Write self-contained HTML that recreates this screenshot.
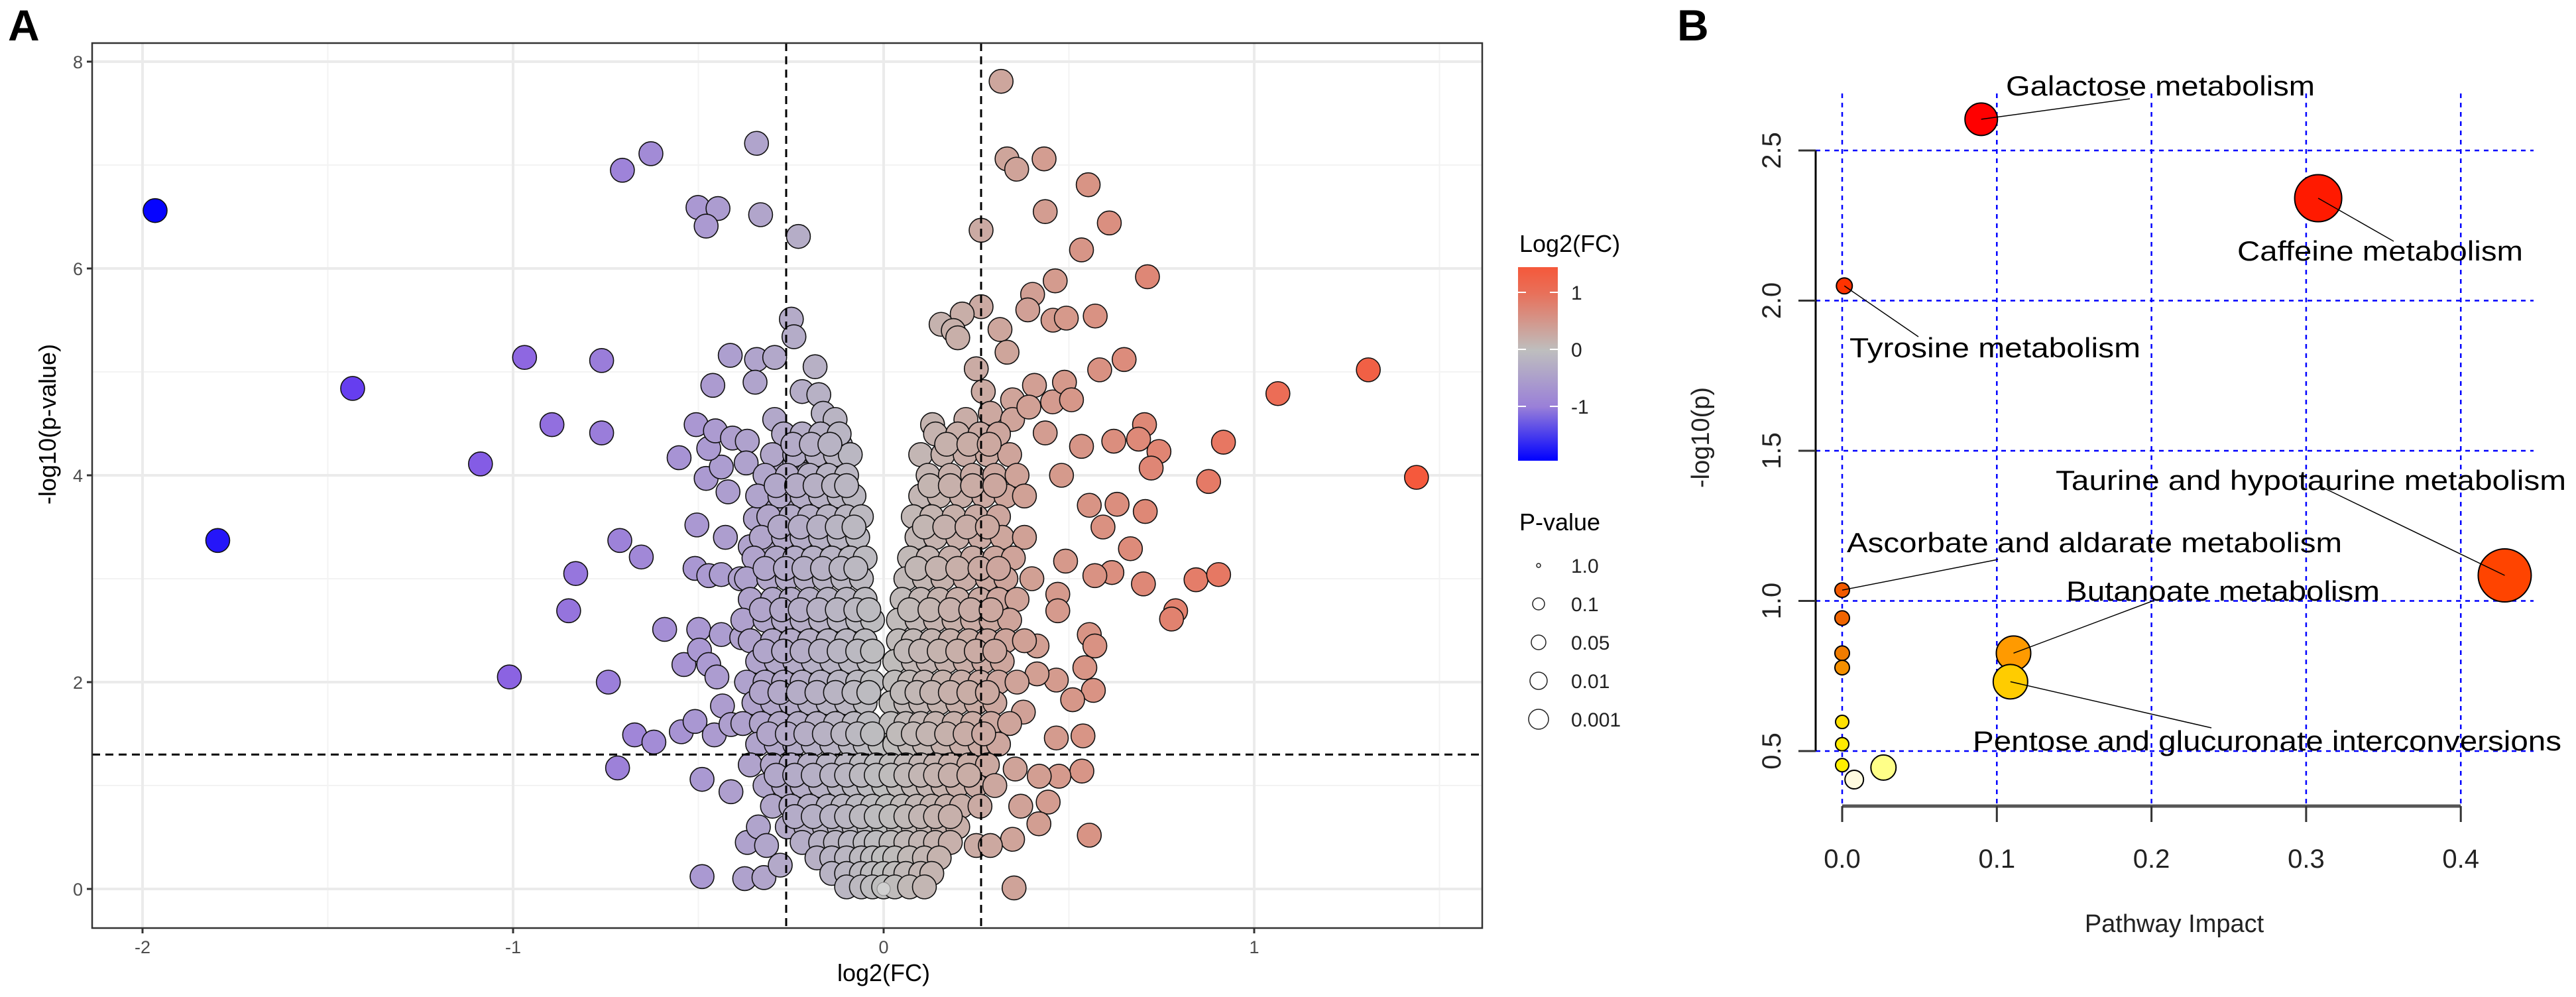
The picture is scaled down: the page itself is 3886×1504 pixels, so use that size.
<!DOCTYPE html>
<html><head><meta charset="utf-8"><style>
html,body{margin:0;padding:0;background:#fff;}
svg{display:block;font-family:"Liberation Sans",Arial,sans-serif;}
</style></head><body>
<svg id="fig" width="3886" height="1504" viewBox="0 0 3886 1504" xmlns="http://www.w3.org/2000/svg">
<defs><clipPath id="clipA"><rect x="139" y="65" width="2097" height="1335"/></clipPath>
<linearGradient id="fcgrad" x1="0" y1="0" x2="0" y2="1">
<stop offset="0" stop-color="#f5583a"/><stop offset="0.135" stop-color="#e8705a"/><stop offset="0.43" stop-color="#bebebe"/><stop offset="0.72" stop-color="#9a80d8"/><stop offset="1" stop-color="#0000ff"/></linearGradient></defs>
<text x="12" y="61" font-size="66" font-weight="bold">A</text>
<text x="2530" y="61" font-size="66" font-weight="bold">B</text>
<g id="gA"></g>
<g id="gB"></g>
</svg>
<script>
// ---------- Panel A data (volcano) ----------
const outX = [-1.966,-1.797,-1.433,-1.088,-0.969,-0.895,-0.761,-0.761,-1.010,-0.743,-0.705,-0.628,-0.343,-0.501,-0.447,-0.479,-0.332,-0.230,-0.712,-0.654,-0.831,-0.850,-0.672,-0.620,-0.718,-0.591,-0.552,-0.506,-0.461,-0.414,-0.343,-0.294,-0.347,-0.294,-0.504,-0.427,-0.420,-0.479,-0.438,-0.472,-0.454,-0.408,-0.368,-0.371,-0.509,-0.472,-0.438,-0.387,-0.499,-0.438,-0.383,-0.539,-0.497,-0.472,-0.450,-0.435,-0.546,-0.509,-0.457,-0.412,-0.490,-0.412,-0.490,-0.375,-0.323,-0.368,-0.338,-0.316,-0.279,-0.249,-0.242,-0.185,-0.220,-0.175,-0.163,-0.131,-0.116,-0.212,-0.249,-0.286,-0.24,-0.205,-0.16,-0.13,-0.294,-0.346,-0.279,-0.234,-0.182,-0.13,-0.093,-0.36,-0.309,-0.264,-0.205,-0.153,-0.1,
0.317,0.333,0.359,0.433,0.552,0.436,0.609,0.534,0.263,0.712,0.463,0.402,0.389,0.457,0.493,0.571,0.263,0.212,0.155,0.188,0.2,0.314,0.333,0.649,0.583,1.308,1.064,1.438,0.917,0.877,0.704,0.688,0.743,0.722,0.621,0.534,0.25,0.269,0.348,0.407,0.456,0.488,0.507,0.132,0.222,0.288,0.348,0.392,0.436,0.48,0.555,0.630,0.706,0.592,0.666,0.491,0.57,0.616,0.701,0.843,0.904,0.788,0.777,0.555,0.57,0.543,0.566,0.466,0.51,0.466,0.538,0.535,0.473,0.42,0.355,0.37,0.444,0.419,0.348,0.555,0.352,0.47,0.47,0.414,0.414,0.377,0.25,0.288];
const outY = [6.56,3.37,4.84,4.11,5.14,4.49,5.11,4.41,2.05,2.0,6.95,7.11,7.21,6.59,6.58,6.41,6.52,6.31,3.37,3.21,3.05,2.69,1.49,1.42,1.17,2.51,4.17,4.49,4.87,5.16,5.12,5.14,4.90,4.54,3.52,3.40,3.84,3.97,4.08,4.26,4.43,4.36,4.33,4.12,3.10,3.03,3.04,3.00,2.51,2.46,2.43,2.17,2.31,2.17,2.05,1.77,1.52,1.62,1.49,1.59,1.06,0.94,0.12,0.10,0.11,0.45,0.60,0.42,0.23,5.51,5.34,5.05,4.81,4.78,4.60,4.54,4.29,4.29,4.35,4.14,4.11,4.01,3.92,3.8,3.8,3.58,3.57,3.68,3.61,3.49,3.37,3.31,3.25,3.18,3.25,3.18,3.18,
7.81,7.06,6.96,7.06,6.81,6.55,6.44,6.18,6.37,5.92,5.88,5.75,5.60,5.50,5.52,5.54,5.63,5.56,5.46,5.40,5.33,5.41,5.19,5.12,5.02,5.02,4.79,3.98,4.32,3.94,4.49,4.35,4.23,4.07,4.33,4.28,5.03,4.81,4.73,4.87,4.71,4.9,4.73,4.49,4.54,4.60,4.54,4.66,4.41,4.0,3.71,3.72,3.65,3.5,3.29,3.17,3.03,3.06,2.95,2.99,3.04,2.69,2.61,2.46,2.35,2.14,1.92,2.02,1.83,1.46,1.48,1.14,1.09,1.09,1.16,0.8,0.84,0.63,0.48,0.52,0.01,2.85,2.69,2.35,2.08,1.71,0.42,0.42];
const cloudRowY = [4.4,4.2,4.0,3.8,3.6,3.4,3.2,3.0,2.8,2.6,2.4,2.2,2.0,1.8,1.6,1.4,1.2,1.0,0.8,0.6,0.45,0.3,0.15,0.02,
 4.3,3.9,3.5,3.1,2.7,2.3,1.9,1.5,1.1,0.7];
const cloudRowX = [
 [-0.27,-0.22,-0.17,-0.12,0.14,0.2,0.26,0.31],
 [-0.3,-0.24,-0.18,-0.13,-0.09,0.1,0.16,0.22,0.28,0.34],
 [-0.32,-0.26,-0.2,-0.15,-0.1,0.12,0.18,0.24,0.3,0.36],
 [-0.34,-0.28,-0.22,-0.17,-0.12,-0.08,0.1,0.15,0.21,0.27,0.33,0.38],
 [-0.31,-0.25,-0.2,-0.15,-0.1,-0.06,0.08,0.13,0.19,0.25,0.31],
 [-0.33,-0.27,-0.22,-0.17,-0.12,-0.07,0.09,0.14,0.2,0.26,0.32,0.38],
 [-0.35,-0.29,-0.24,-0.19,-0.14,-0.09,-0.05,0.07,0.12,0.18,0.24,0.3,0.35],
 [-0.37,-0.31,-0.26,-0.21,-0.16,-0.11,-0.06,0.06,0.11,0.16,0.22,0.28,0.33,0.4],
 [-0.36,-0.3,-0.25,-0.2,-0.15,-0.1,-0.05,0.05,0.1,0.15,0.2,0.26,0.31,0.36],
 [-0.38,-0.32,-0.27,-0.22,-0.17,-0.12,-0.07,-0.03,0.04,0.09,0.14,0.19,0.24,0.29,0.34],
 [-0.36,-0.3,-0.25,-0.2,-0.15,-0.1,-0.05,0.04,0.08,0.13,0.18,0.23,0.28,0.33,0.38],
 [-0.34,-0.29,-0.24,-0.19,-0.14,-0.09,-0.04,0.03,0.08,0.12,0.17,0.22,0.27,0.32],
 [-0.37,-0.32,-0.27,-0.22,-0.17,-0.12,-0.07,-0.03,0.03,0.07,0.11,0.16,0.21,0.26,0.31,0.36],
 [-0.35,-0.3,-0.25,-0.2,-0.15,-0.1,-0.05,0.02,0.06,0.1,0.15,0.2,0.25,0.3],
 [-0.38,-0.33,-0.28,-0.23,-0.18,-0.13,-0.08,-0.04,0.02,0.06,0.1,0.14,0.19,0.24,0.29,0.34],
 [-0.34,-0.29,-0.24,-0.19,-0.14,-0.09,-0.05,-0.01,0.03,0.07,0.11,0.16,0.21,0.26,0.31],
 [-0.36,-0.3,-0.25,-0.2,-0.15,-0.1,-0.06,-0.02,0.02,0.06,0.1,0.14,0.18,0.23,0.28],
 [-0.32,-0.27,-0.22,-0.17,-0.12,-0.08,-0.04,0.0,0.04,0.08,0.12,0.16,0.2,0.25,0.3],
 [-0.3,-0.25,-0.2,-0.15,-0.11,-0.07,-0.03,0.01,0.05,0.09,0.13,0.17,0.21,0.26],
 [-0.26,-0.21,-0.16,-0.12,-0.08,-0.04,0.0,0.04,0.08,0.12,0.16,0.2],
 [-0.22,-0.17,-0.13,-0.09,-0.05,-0.02,0.02,0.06,0.1,0.14,0.18],
 [-0.18,-0.14,-0.1,-0.06,-0.03,0.0,0.03,0.07,0.11,0.15],
 [-0.14,-0.1,-0.06,-0.03,0.0,0.03,0.06,0.1,0.13],
 [-0.1,-0.06,-0.03,0.0,0.03,0.07,0.11],
 [-0.245,-0.195,-0.145,0.17,0.23,0.285],
 [-0.29,-0.235,-0.185,-0.135,-0.1,0.125,0.18,0.24,0.3],
 [-0.28,-0.225,-0.175,-0.125,-0.08,0.11,0.165,0.225,0.28],
 [-0.32,-0.265,-0.215,-0.165,-0.115,-0.075,0.09,0.145,0.2,0.26,0.31],
 [-0.33,-0.275,-0.225,-0.175,-0.125,-0.075,-0.04,0.07,0.125,0.18,0.235,0.29],
 [-0.32,-0.27,-0.22,-0.17,-0.12,-0.07,-0.03,0.06,0.1,0.15,0.2,0.25,0.3],
 [-0.33,-0.28,-0.23,-0.18,-0.13,-0.08,-0.04,0.05,0.09,0.13,0.18,0.23,0.28],
 [-0.31,-0.26,-0.21,-0.16,-0.11,-0.07,-0.03,0.04,0.08,0.12,0.17,0.22,0.27],
 [-0.29,-0.24,-0.19,-0.14,-0.1,-0.06,-0.02,0.02,0.06,0.1,0.14,0.18,0.23],
 [-0.24,-0.19,-0.14,-0.1,-0.06,-0.02,0.02,0.06,0.1,0.14,0.18]];
const xTicksA = [-2,-1,0,1];
const xTickLabelsA = ["-2","-1","0","1"];
const yTicksA = [0,2,4,6,8];
const yTickLabelsA = ["0","2","4","6","8"];
const fcCut = [-0.263,0.263];
const pCut = [1.3];
const legendFC = [1,0,-1];
const legendP = ["1.0","0.1","0.05","0.01","0.001"];
const legendPr = [3,9,11,13,15];

// ---------- Panel B data (pathway) ----------
const pwNames = ["Galactose metabolism","Caffeine metabolism","Tyrosine metabolism","Taurine and hypotaurine metabolism","Ascorbate and aldarate metabolism","","","","Butanoate metabolism","Pentose and glucuronate interconversions","","","","",""];
const pwImpact = [0.0899,0.3078,0.0014,0.4284,0,0,0,0,0.1108,0.1088,0,0,0,0.0078,0.0267];
const pwLogP = [2.604,2.341,2.049,1.085,1.036,0.943,0.826,0.778,0.826,0.731,0.597,0.523,0.453,0.405,0.445];
const pwRadius = [24.5,35.5,12,40,11,11,11,11,26,26,10,10,10,14,19];
const pwColor = ["#ff0000","#ff1a00","#ff3300","#ff4400","#f25a00","#f06400","#f07c00","#f59000","#ff9a00","#ffcc00","#ffe000","#ffea00","#fff000","#fffbe0","#ffff88"];
const xTicksB = [0,0.1,0.2,0.3,0.4];
const xTickLabelsB = ["0.0","0.1","0.2","0.3","0.4"];
const yTicksB = [0.5,1.0,1.5,2.0,2.5];
const yTickLabelsB = ["0.5","1.0","1.5","2.0","2.5"];

const NS="http://www.w3.org/2000/svg";
function mk(tag, attrs, parent){const e=document.createElementNS(NS,tag);for(const k in attrs)e.setAttribute(k,attrs[k]);parent.appendChild(e);return e;}

// ---------- Panel A ----------
const gA=document.getElementById('gA');
const XA=v=>1333+559*v, YA=v=>1341-156*v;
const L=139,R=2236,T=65,B=1400;
function fcColor(v){
  const pos=[[0,[190,190,190]],[0.5,[214,152,138]],[1.0,[234,112,90]],[1.5,[246,86,56]]];
  const neg=[[0,[190,190,190]],[0.5,[170,152,210]],[1.0,[140,100,226]],[1.45,[100,60,240]],[2.0,[0,0,255]]];
  const s=v>=0?pos:neg, a=Math.abs(v);
  for(let i=1;i<s.length;i++){if(a<=s[i][0]||i===s.length-1){const t=Math.min(1,(a-s[i-1][0])/(s[i][0]-s[i-1][0]));const c=s[i-1][1].map((c0,j)=>Math.round(c0+(s[i][1][j]-c0)*t));return `rgb(${c})`;}}
}
const bg=mk('rect',{x:L,y:T,width:R-L,height:B-T,fill:'#fff'},gA);


[-1.5,-0.5,0.5,1.5].forEach(v=>{const l=mk('line',{x1:XA(v),x2:XA(v),y1:T,y2:B,stroke:'#f3f3f3','stroke-width':2},gA);

});
[1,3,5,7].forEach(v=>{const l=mk('line',{x1:L,x2:R,y1:YA(v),y2:YA(v),stroke:'#f3f3f3','stroke-width':2},gA);

});
xTicksA.forEach(v=>{const l=mk('line',{x1:XA(v),x2:XA(v),y1:T,y2:B,stroke:'#ebebeb','stroke-width':4},gA);

});
yTicksA.forEach(v=>{const l=mk('line',{x1:L,x2:R,y1:YA(v),y2:YA(v),stroke:'#ebebeb','stroke-width':4},gA);

});
const pts=mk('g',{'clip-path':'url(#clipA)'},gA);


function dot(x,y){const c=mk('circle',{cx:XA(x),cy:YA(y),r:18,fill:fcColor(x),stroke:'#111','stroke-width':1.6},pts);

}
for(let i=0;i<outX.length;i++) if(Math.abs(outX[i])>0.6) dot(outX[i],outY[i]);
for(let i=0;i<outX.length;i++) if(Math.abs(outX[i])<=0.6) dot(outX[i],outY[i]);
cloudRowY.forEach((y,i)=>cloudRowX[i].forEach(x=>dot(x,y)));
const cz=mk('circle',{cx:XA(0),cy:YA(0),r:10,fill:'#d0d0d0',stroke:'#888','stroke-width':1},pts);


fcCut.forEach(v=>{const l=mk('line',{x1:XA(v),x2:XA(v),y1:T,y2:B,stroke:'#000','stroke-width':3,'stroke-dasharray':'12,8'},gA);

});
pCut.forEach(v=>{const l=mk('line',{x1:L,x2:R,y1:YA(v),y2:YA(v),stroke:'#000','stroke-width':3,'stroke-dasharray':'12,8'},gA);

});
const br=mk('rect',{x:L,y:T,width:R-L,height:B-T,fill:'none',stroke:'#333','stroke-width':2.5},gA);


xTicksA.forEach((v,i)=>{const t=mk('line',{x1:XA(v),x2:XA(v),y1:B,y2:B+8,stroke:'#333','stroke-width':3},gA);


const tx=mk('text',{x:XA(v),y:B+38,'font-size':27,fill:'#4d4d4d','text-anchor':'middle'},gA);tx.textContent=xTickLabelsA[i];

});
yTicksA.forEach((v,i)=>{const t=mk('line',{x1:L-8,x2:L,y1:YA(v),y2:YA(v),stroke:'#333','stroke-width':3},gA);


const tx=mk('text',{x:L-14,y:YA(v)+10,'font-size':27,fill:'#4d4d4d','text-anchor':'end'},gA);tx.textContent=yTickLabelsA[i];

});
let at=mk('text',{x:1333,y:1480,'font-size':36,'text-anchor':'middle'},gA);at.textContent='log2(FC)';


at=mk('text',{x:0,y:0,'font-size':36,'text-anchor':'middle',transform:'translate(84,640) rotate(-90)'},gA);at.textContent='-log10(p-value)';


// legend
at=mk('text',{x:2292,y:380,'font-size':36},gA);at.textContent='Log2(FC)';


const cb=mk('rect',{x:2290,y:403,width:60,height:292,fill:'url(#fcgrad)'},gA);


const LY=v=>527-86*v;
legendFC.forEach(v=>{mk('line',{x1:2290,x2:2302,y1:LY(v),y2:LY(v),stroke:'#fff','stroke-width':2},gA);mk('line',{x1:2338,x2:2350,y1:LY(v),y2:LY(v),stroke:'#fff','stroke-width':2},gA);
const tx=mk('text',{x:2370,y:LY(v)+11,'font-size':30,fill:'#222'},gA);tx.textContent=String(v);

});
at=mk('text',{x:2292,y:800,'font-size':36},gA);at.textContent='P-value';


legendP.forEach((s,i)=>{const y=853+58*i;
const c=mk('circle',{cx:2321,cy:y,r:legendPr[i],fill:'none',stroke:'#222','stroke-width':1.5},gA);


const tx=mk('text',{x:2370,y:y+11,'font-size':30,fill:'#222'},gA);tx.textContent=s;

});

// ---------- Panel B ----------
const gB=document.getElementById('gB');
const XB=v=>2779+2333*v, YB=v=>1133-453*(v-0.5);
yTicksB.forEach(v=>{const l=mk('line',{x1:2739,x2:3822,y1:YB(v),y2:YB(v),stroke:'#0000ff','stroke-width':2.5,'stroke-dasharray':'7,7'},gB);

});
xTicksB.forEach(v=>{const l=mk('line',{x1:XB(v),x2:XB(v),y1:141,y2:1216,stroke:'#0000ff','stroke-width':2.5,'stroke-dasharray':'7,7'},gB);

});
const lblX=[3026,3375,2790,3101,2786,3117,2976], lblY=[144,393,539,739,833,906,1132], lblW=[466,431,439,770,747,473,888];
const ldr=[[3213,149],[3611,364],[2894,508],[3501,734],[3014,844],[3249,906],[3336,1098]];
let li=0;
pwNames.forEach((n,i)=>{
  const c=mk('circle',{cx:XB(pwImpact[i]),cy:YB(pwLogP[i]),r:pwRadius[i],fill:pwColor[i],stroke:'#000','stroke-width':2},gB);
  
  
});
pwNames.forEach((n,i)=>{
  if(!n) return;
  const k=li++;
  const l=mk('line',{x1:XB(pwImpact[i]),y1:YB(pwLogP[i]),x2:ldr[k][0],y2:ldr[k][1],stroke:'#000','stroke-width':1.5},gB);
  
  
  const t=mk('text',{x:lblX[k],y:lblY[k],'font-size':42,textLength:lblW[k],lengthAdjust:'spacingAndGlyphs'},gB);t.textContent=n;
  
  
});
let ax=mk('line',{x1:2739,x2:2739,y1:YB(2.5),y2:YB(0.5),stroke:'#000','stroke-width':3},gB);


yTicksB.forEach((v,i)=>{const t=mk('line',{x1:2713,x2:2739,y1:YB(v),y2:YB(v),stroke:'#333','stroke-width':3},gB);


const tx=mk('text',{x:0,y:0,'font-size':40,'text-anchor':'middle',fill:'#222',transform:`translate(2686,${YB(v)}) rotate(-90)`},gB);tx.textContent=yTickLabelsB[i];

});
ax=mk('line',{x1:XB(0),x2:XB(0.4),y1:1216,y2:1216,stroke:'#555','stroke-width':5},gB);


xTicksB.forEach((v,i)=>{const t=mk('line',{x1:XB(v),x2:XB(v),y1:1216,y2:1240,stroke:'#333','stroke-width':3},gB);


const tx=mk('text',{x:XB(v),y:1309,'font-size':40,'text-anchor':'middle',fill:'#222'},gB);tx.textContent=xTickLabelsB[i];

});
at=mk('text',{x:3280,y:1406,'font-size':38,'text-anchor':'middle',fill:'#222'},gB);at.textContent='Pathway Impact';


at=mk('text',{x:0,y:0,'font-size':38,'text-anchor':'middle',fill:'#222',transform:'translate(2578,660) rotate(-90)'},gB);at.textContent='-log10(p)';


</script>
</body></html>
